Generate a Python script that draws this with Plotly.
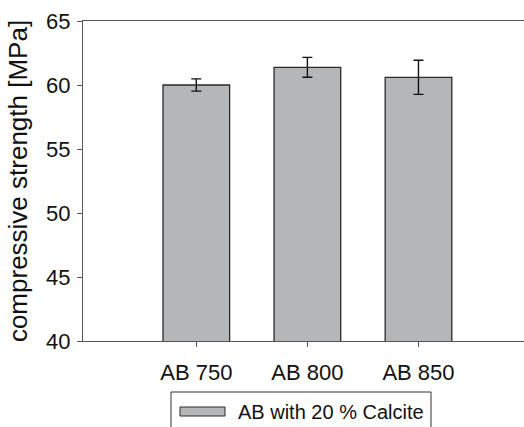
import plotly.graph_objects as go

categories = ["AB 750", "AB 800", "AB 850"]
strength = [60.0, 61.38, 60.6]
error = [0.48, 0.78, 1.33]
series_name = "AB with 20 % Calcite"
y_ticks = [40, 45, 50, 55, 60, 65]

W, H = 524, 427
ML, MR, MT, MB = 83, 0, 21, 86
PW, PH = W - ML - MR, H - MT - MB

def px_x(x):
    return (x - ML) / PW

def px_y(y):
    return (H - MB - y) / PH

FONT = "Liberation Sans, Arial, sans-serif"
BAR_FILL = "#b4b6b8"
BAR_LINE = "#2a2a2a"
AXIS = "#555555"

fig = go.Figure()
fig.add_trace(go.Bar(
    x=categories, y=strength, width=0.6,
    marker=dict(color=BAR_FILL, line=dict(color=BAR_LINE, width=1.3)),
    error_y=dict(type="data", array=error, visible=True, color="#111111",
                 thickness=1.4, width=5),
    name=series_name, showlegend=False,
))

fig.update_layout(
    width=W, height=H,
    margin=dict(l=ML, r=MR, t=MT, b=MB, pad=0),
    paper_bgcolor="white", plot_bgcolor="white",
    font=dict(family=FONT, color="#111111"),
    bargap=0.4,
    xaxis=dict(
        range=[-1.02, 2.95], showgrid=False, zeroline=False,
        showline=True, linecolor=AXIS, linewidth=1.2, mirror=True,
        ticks="outside", ticklen=5, tickcolor=AXIS, tickwidth=1.2,
        tickfont=dict(size=22, family=FONT, color="#111111"),
        ticklabelstandoff=6,
    ),
    yaxis=dict(
        range=[40, 65], tickvals=y_ticks, showgrid=False, zeroline=False,
        showline=True, linecolor=AXIS, linewidth=1.2,
        ticks="outside", ticklen=5, tickcolor=AXIS, tickwidth=1.2,
        tickfont=dict(size=22, family=FONT, color="#111111"),
        ticklabelstandoff=2,
        title=dict(text="compressive strength [MPa]",
                   font=dict(size=26, family=FONT, color="#111111"),
                   standoff=10),
    ),
)

# legend box drawn manually (wide bar symbol like the original)
fig.add_shape(type="rect", xref="paper", yref="paper",
              x0=px_x(171), x1=px_x(431), y0=px_y(392), y1=px_y(440),
              line=dict(color="#333333", width=1), fillcolor="white", layer="above")
fig.add_shape(type="rect", xref="paper", yref="paper",
              x0=px_x(180), x1=px_x(225), y0=px_y(407), y1=px_y(416),
              line=dict(color=BAR_LINE, width=1), fillcolor=BAR_FILL, layer="above")
fig.add_annotation(xref="paper", yref="paper", x=px_x(236), y=px_y(411.5),
                   xanchor="left", yanchor="middle", showarrow=False,
                   text=series_name, font=dict(size=20, family=FONT, color="#111111"))

fig.write_html("out.html")
